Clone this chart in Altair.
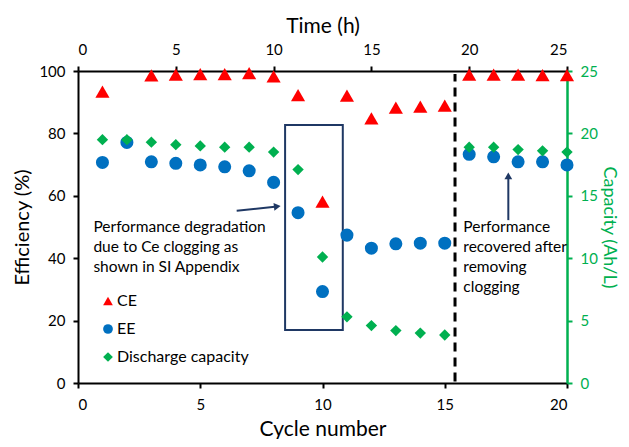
import altair as alt
import pandas as pd

cycles = list(range(1, 21))
ce = [93.4, None, 98.6, 98.8, 99.0, 99.0, 99.3, 98.3, 92.3, 58.1,
      92.1, 84.8, 88.3, 88.6, 88.9, 98.8, 98.8, 98.8, 98.7, 98.7]
ee = [70.7, 77.1, 70.9, 70.4, 69.9, 69.3, 68.0, 64.3, 54.6, 29.3,
      47.4, 43.2, 44.6, 44.8, 44.8, 73.3, 72.5, 70.9, 70.9, 69.9]
cap = [19.5, 19.5, 19.3, 19.1, 19.0, 18.9, 18.9, 18.5, 17.1, 10.1,
       5.3, 4.6, 4.2, 4.0, 3.85, 18.9, 18.9, 18.7, 18.6, 18.5]

series_names = ["CE", "EE", "Discharge capacity"]
series_colors = ["#ff0000", "#0070c0", "#00b050"]
series_shapes = ["triangle-up", "circle", "diamond"]

time_ticks = [0, 5, 10, 15, 20, 25]

ann1_lines = ["Performance degradation", "due to Ce clogging as", "shown in SI Appendix"]
ann2_lines = ["Performance", "recovered after", "removing", "clogging"]

FONT = "Lato"
NAVY = "#1f3864"
GREEN = "#00b050"

ce_df = pd.DataFrame({"cycle": cycles, "series": "CE", "value": ce}).dropna()
ee_df = pd.DataFrame({"cycle": cycles, "series": "EE", "value": ee})
cap_df = pd.DataFrame({"cycle": cycles, "series": "Discharge capacity", "value": cap})

xs = alt.Scale(domain=[0, 20], nice=False, zero=False)
ys = alt.Scale(domain=[0, 100], nice=False)

color_enc = alt.Color("series:N", scale=alt.Scale(domain=series_names, range=series_colors),
                      legend=alt.Legend(title=None, orient="none", legendX=22, legendY=222,
                                        labelFontSize=16, labelFont=FONT, rowPadding=12,
                                        symbolSize=95, symbolStrokeWidth=0, labelOffset=1,
                                        padding=0))
shape_enc = alt.Shape("series:N", scale=alt.Scale(domain=series_names, range=series_shapes))

common = dict(grid=False, tickWidth=2, tickSize=5, labelFontSize=15)

bottom_axis = alt.Axis(values=[0, 5, 10, 15, 20], title="Cycle number", titleFontSize=21,
                       domainColor="black", domainWidth=2, tickColor="black",
                       labelPadding=9, titlePadding=6, labelColor="black",
                       titleColor="black", **common)
left_axis = alt.Axis(values=[0, 20, 40, 60, 80, 100], title="Efficiency (%)", titleFontSize=20,
                     domainColor="black", domainWidth=2, tickColor="black",
                     labelPadding=8, titlePadding=6, labelColor="black",
                     titleColor="black", **common)

ce_points = alt.Chart(ce_df).mark_point(filled=True, opacity=1, size=200).encode(
    x=alt.X("cycle:Q", scale=xs, axis=bottom_axis),
    y=alt.Y("value:Q", scale=ys, axis=left_axis),
    color=color_enc, shape=shape_enc,
)
ee_points = alt.Chart(ee_df).mark_point(filled=True, opacity=1, size=170).encode(
    x=alt.X("cycle:Q", scale=xs),
    y=alt.Y("value:Q", scale=ys),
    color=color_enc, shape=shape_enc,
)

box_df = pd.DataFrame({"x": [8.47], "x2": [10.83], "y": [17.0], "y2": [82.7]})
box = alt.Chart(box_df).mark_rect(fill=None, stroke=NAVY, strokeWidth=2).encode(
    x="x:Q", x2="x2:Q", y="y:Q", y2="y2:Q")

dash_df = pd.DataFrame({"x": [15.42], "y": [0.5], "y2": [99]})
dash = alt.Chart(dash_df).mark_rule(color="black", strokeWidth=3, strokeDash=[9, 6]).encode(
    x="x:Q", y="y:Q", y2="y2:Q")

arrow_lines = pd.DataFrame({"x": [6.49, 17.6], "y": [55.2, 52.2], "x2": [8.05, 17.6], "y2": [56.5, 66.0]})
arrows = alt.Chart(arrow_lines).mark_rule(color=NAVY, strokeWidth=2).encode(
    x="x:Q", y="y:Q", x2="x2:Q", y2="y2:Q")
heads_df = pd.DataFrame({"x": [8.15, 17.6], "y": [56.6, 66.4], "ang": [83.5, 0]})
heads = alt.Chart(heads_df).mark_point(shape="triangle-up", filled=True, color=NAVY,
                                       opacity=1, size=60).encode(
    x="x:Q", y="y:Q", angle=alt.Angle("ang:Q", scale=None))

ann1_df = pd.DataFrame({"x": 0.63, "y": [50.0, 43.6, 37.2], "t": ann1_lines})
ann2_df = pd.DataFrame({"x": 15.76, "y": [50.1, 43.5, 37.1, 30.7], "t": ann2_lines})
ann1 = alt.Chart(ann1_df).mark_text(align="left", baseline="middle", fontSize=15.5, font=FONT,
                                    color="black").encode(x="x:Q", y="y:Q", text="t:N")
ann2 = alt.Chart(ann2_df).mark_text(align="left", baseline="middle", fontSize=15.5, font=FONT,
                                    color="black").encode(x="x:Q", y="y:Q", text="t:N")

layer_a = alt.layer(box, dash, arrows, heads, ann1, ann2, ce_points, ee_points)

right_axis = alt.Axis(values=[0, 5, 10, 15, 20, 25], title="Capacity (Ah/L)", orient="right",
                      titleFontSize=18, domainColor=GREEN, domainWidth=2.5, tickColor=GREEN,
                      labelPadding=8, titlePadding=2, labelColor=GREEN, titleColor=GREEN,
                      **common)
cap_points = alt.Chart(cap_df).mark_point(filled=True, opacity=1, size=130).encode(
    x=alt.X("cycle:Q", scale=xs, axis=None),
    y=alt.Y("value:Q", scale=alt.Scale(domain=[0, 25], nice=False), axis=right_axis),
    color=color_enc, shape=shape_enc,
)

top_axis = alt.Axis(values=time_ticks, title="Time (h)", orient="top", titleFontSize=21,
                    domainColor="black", domainWidth=2, tickColor="black",
                    labelPadding=9, titlePadding=6, labelColor="black",
                    titleColor="black", **common)
time_df = pd.DataFrame({"t": time_ticks})
time_layer = alt.Chart(time_df).mark_point(opacity=0).encode(
    x=alt.X("t:Q", scale=alt.Scale(domain=[0, 25], nice=False), axis=top_axis))

chart = alt.layer(layer_a, cap_points, time_layer).resolve_scale(
    x="independent", y="independent"
).properties(
    width=489, height=312,
    autosize=alt.AutoSizeParams(type="none"),
    padding={"left": 70, "top": 63, "right": 54, "bottom": 56},
).configure_view(stroke=None).configure_axis(
    labelFont=FONT, titleFont=FONT, titleFontWeight="normal"
)

chart.save("out.html", embed_options={"renderer": "svg", "actions": False})
